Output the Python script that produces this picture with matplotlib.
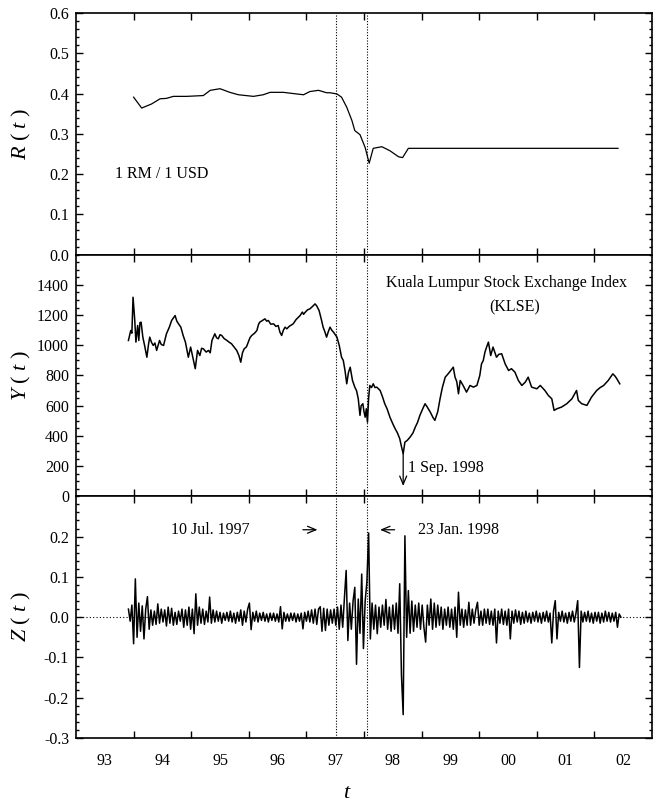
import numpy as np
import matplotlib
matplotlib.use('Agg')
import matplotlib.pyplot as plt
from matplotlib.ticker import MultipleLocator, FixedLocator, NullFormatter

# exchange rate 1 RM / 1 USD
r_t = [94.00, 94.14, 94.31, 94.46, 94.57, 94.69, 94.92, 95.21, 95.33, 95.50,
       95.67, 95.82, 96.08, 96.25, 96.37, 96.60, 96.83, 96.95, 97.06, 97.21,
       97.35, 97.41, 97.53, 97.61, 97.70, 97.79, 97.84, 97.93, 98.02, 98.09,
       98.16, 98.31, 98.45, 98.60, 98.67, 98.77, 102.41]
r_v = [0.391, 0.364, 0.374, 0.387, 0.388, 0.393, 0.393, 0.395, 0.408, 0.412,
       0.403, 0.397, 0.393, 0.397, 0.403, 0.403, 0.399, 0.397, 0.405, 0.408,
       0.402, 0.402, 0.399, 0.391, 0.366, 0.333, 0.308, 0.298, 0.266, 0.227,
       0.264, 0.268, 0.258, 0.243, 0.241, 0.264, 0.264]

# KLSE index
y_t = [93.91, 93.95, 93.97, 93.99, 94.02, 94.04, 94.07, 94.09, 94.11, 94.13,
       94.16, 94.19, 94.23, 94.26, 94.28, 94.31, 94.34, 94.37, 94.40, 94.45,
       94.48, 94.52, 94.57, 94.62, 94.66, 94.72, 94.75, 94.78, 94.82, 94.86,
       94.90, 94.95, 94.99, 95.04, 95.07, 95.11, 95.15, 95.18, 95.21, 95.26,
       95.30, 95.33, 95.36, 95.41, 95.44, 95.47, 95.50, 95.53, 95.57, 95.62,
       95.66, 95.70, 95.75, 95.79, 95.83, 95.86, 95.89, 95.92, 95.96, 95.99,
       96.02, 96.05, 96.10, 96.14, 96.17, 96.19, 96.24, 96.28, 96.31, 96.34,
       96.38, 96.43, 96.47, 96.51, 96.54, 96.57, 96.60, 96.63, 96.66, 96.70,
       96.74, 96.77, 96.82, 96.86, 96.89, 96.93, 96.95, 96.98, 97.02, 97.06,
       97.10, 97.15, 97.18, 97.22, 97.26, 97.29, 97.32, 97.35, 97.38, 97.41,
       97.44, 97.47, 97.50, 97.53, 97.57, 97.61, 97.64, 97.67, 97.70, 97.73,
       97.76, 97.80, 97.84, 97.87, 97.90, 97.93, 97.95, 97.98, 98.00, 98.02,
       98.04, 98.06, 98.08, 98.10, 98.13, 98.16, 98.19, 98.22, 98.28, 98.32,
       98.36, 98.40, 98.45, 98.50, 98.54, 98.58, 98.62, 98.65, 98.68, 98.71,
       98.75, 98.80, 98.85, 98.89, 98.93, 98.97, 99.02, 99.06, 99.10, 99.15,
       99.20, 99.23, 99.28, 99.32, 99.36, 99.41, 99.46, 99.50, 99.55, 99.58,
       99.61, 99.64, 99.67, 99.72, 99.78, 99.84, 99.90, 99.96, 100.01, 100.04,
       100.07, 100.10, 100.13, 100.16, 100.20, 100.24, 100.30, 100.34, 100.39, 100.45,
       100.51, 100.56, 100.62, 100.68, 100.74, 100.80, 100.85, 100.91, 101.00, 101.06,
       101.14, 101.20, 101.26, 101.30, 101.35, 101.43, 101.52, 101.61, 101.69, 101.72,
       101.78, 101.87, 101.95, 102.04, 102.10, 102.16, 102.24, 102.32, 102.36, 102.39,
       102.44]
y_v = [1032, 1098, 1080, 1318, 1164, 1021, 1131, 1032, 1150, 1153,
       1054, 1000, 921, 1010, 1054, 1020, 999, 1015, 966, 1032,
       1005, 999, 1076, 1120, 1164, 1197, 1160, 1142, 1120, 1065,
       1020, 921, 988, 899, 845, 966, 932, 980, 977, 955,
       966, 950, 1032, 1076, 1050, 1043, 1070, 1065, 1045, 1032,
       1020, 1010, 985, 966, 930, 888, 950, 977, 990, 1021,
       1050, 1065, 1080, 1098, 1140, 1153, 1165, 1175, 1160, 1164,
       1140, 1142, 1125, 1131, 1087, 1065, 1100, 1120, 1109, 1125,
       1135, 1142, 1170, 1185, 1197, 1220, 1205, 1219, 1235, 1241,
       1255, 1274, 1260, 1230, 1170, 1120, 1090, 1054, 1090, 1120,
       1100, 1087, 1070, 1054, 999, 921, 900, 833, 745, 820,
       855, 767, 723, 700, 646, 536, 600, 613, 560, 524,
       580, 491, 650, 734, 720, 745, 720, 723, 701, 660,
       613, 580, 524, 480, 448, 420, 382, 330, 282, 359,
       370, 392, 420, 458, 490, 536, 580, 613, 590, 558,
       520, 503, 560, 646, 720, 789, 811, 830, 855, 789,
       760, 679, 767, 734, 690, 734, 723, 734, 800, 877,
       899, 955, 990, 1021, 932, 988, 921, 940, 944, 877,
       833, 845, 822, 767, 734, 756, 789, 723, 712, 734,
       701, 668, 646, 569, 580, 591, 613, 646, 701, 635,
       613, 602, 657, 701, 720, 734, 767, 811, 795, 778,
       745]

# normalized returns, sampled every 0.03 yr from 93.91
z_start = 93.91
z_step = 0.03
z_v = [0.020, -0.010, 0.030, -0.066, 0.095, -0.050, 0.035, -0.035, 0.028, -0.054,
       0.020, 0.051, -0.030, 0.018, -0.020, 0.015, -0.018, 0.033, -0.015, 0.020,
       -0.012, 0.018, -0.022, 0.025, -0.015, 0.022, -0.020, 0.012, -0.018, 0.015,
       -0.010, 0.020, -0.025, 0.018, -0.020, 0.025, -0.030, 0.020, -0.041, 0.058,
       -0.020, 0.025, -0.015, 0.020, -0.018, 0.015, -0.012, 0.050, -0.015, 0.018,
       -0.012, 0.015, -0.010, 0.012, -0.015, 0.010, -0.008, 0.012, -0.010, 0.015,
       -0.012, 0.010, -0.015, 0.012, -0.010, 0.018, -0.020, 0.015, -0.012, 0.020,
       0.035, -0.031, 0.012, -0.010, 0.015, -0.012, 0.010, -0.008, 0.012, -0.010,
       0.008, -0.012, 0.010, -0.008, 0.010, -0.010, 0.008, -0.012, 0.026, -0.029,
       0.012, -0.010, 0.008, -0.010, 0.010, -0.008, 0.010, -0.012, 0.008, -0.010,
       0.010, -0.029, 0.012, -0.010, 0.015, -0.012, 0.018, -0.015, 0.020, -0.018,
       0.020, 0.026, -0.035, 0.022, -0.033, 0.020, -0.020, 0.018, -0.015, 0.020,
       -0.020, 0.025, -0.030, 0.030, -0.025, 0.048, 0.116, -0.058, 0.035, -0.030,
       0.040, 0.074, -0.117, 0.045, -0.040, 0.107, -0.078, 0.040, 0.087, 0.209,
       -0.054, 0.035, -0.030, 0.030, -0.041, 0.025, -0.025, 0.030, -0.020, 0.044,
       -0.030, 0.025, -0.035, 0.030, -0.030, 0.035, -0.040, 0.083, -0.144, -0.242,
       0.202, -0.050, 0.066, -0.040, 0.040, -0.035, 0.030, -0.025, 0.035, -0.030,
       0.030, -0.025, -0.062, 0.030, -0.020, 0.045, -0.030, 0.035, -0.025, 0.030,
       -0.020, 0.025, -0.030, 0.020, -0.020, 0.025, -0.025, 0.020, -0.030, 0.025,
       -0.050, 0.062, -0.020, 0.020, -0.025, 0.018, -0.020, 0.037, -0.020, 0.020,
       -0.015, 0.018, 0.037, -0.020, 0.015, -0.020, 0.020, -0.015, 0.020, -0.018,
       0.015, -0.020, 0.020, -0.064, 0.015, -0.015, 0.020, -0.018, 0.015, -0.020,
       0.020, -0.054, 0.015, -0.015, 0.018, -0.012, 0.015, -0.018, 0.012, -0.015,
       0.015, -0.012, 0.010, -0.015, 0.012, -0.010, 0.015, -0.012, 0.010, -0.015,
       0.012, -0.010, 0.015, -0.012, 0.010, -0.064, 0.015, 0.041, -0.054, 0.012,
       -0.010, 0.015, -0.012, 0.010, -0.015, 0.012, -0.010, 0.015, -0.012, 0.010,
       0.041, -0.125, 0.015, -0.012, 0.012, -0.010, 0.015, -0.012, 0.010, -0.015,
       0.012, -0.010, 0.012, -0.015, 0.010, -0.012, 0.015, -0.010, 0.012, -0.012,
       0.010, -0.010, 0.012, -0.025, 0.008, 0.000]
z_t = z_start + z_step * np.arange(len(z_v))

year_edges = list(range(94, 103))
year_centers = [y + 0.5 for y in range(93, 103)]
year_labels = ['93', '94', '95', '96', '97', '98', '99', '00', '01', '02']

crash_dates = [97.52, 98.06]   # 10 Jul. 1997, 23 Jan. 1998
sep98 = 98.68

plt.rcParams['font.family'] = ['Liberation Serif', 'DejaVu Serif']
plt.rcParams['mathtext.fontset'] = 'custom'
plt.rcParams['mathtext.rm'] = 'Liberation Serif'
plt.rcParams['mathtext.it'] = 'Liberation Serif:italic'
plt.rcParams['axes.unicode_minus'] = False

fig, axes = plt.subplots(3, 1, figsize=(6.57, 8.07), dpi=100)
fig.subplots_adjust(left=0.1157, right=0.9924, top=0.9839, bottom=0.0855,
                    hspace=0)
ax1, ax2, ax3 = axes

ax1.plot(r_t, r_v, color='k', lw=0.9)
ax2.plot(y_t, y_v, color='k', lw=1.1)
ax3.axhline(0, color='k', lw=0.8, ls=(0, (1, 2)), zorder=1)
ax3.plot(z_t, z_v, color='k', lw=1.1, zorder=2)

ax1.set_ylim(0, 0.6)
ax1.yaxis.set_major_locator(MultipleLocator(0.1))
ax1.yaxis.set_minor_locator(MultipleLocator(0.02))
ax1.yaxis.set_major_formatter(plt.FormatStrFormatter('%.1f'))

ax2.set_ylim(0, 1600)
ax2.yaxis.set_major_locator(FixedLocator([0, 200, 400, 600, 800, 1000, 1200, 1400]))
ax2.yaxis.set_minor_locator(MultipleLocator(50))

ax3.set_ylim(-0.3, 0.3)
ax3.yaxis.set_major_locator(FixedLocator([-0.3, -0.2, -0.1, 0.0, 0.1, 0.2]))
ax3.yaxis.set_minor_locator(MultipleLocator(0.02))
ax3.yaxis.set_major_formatter(plt.FormatStrFormatter('%.1f'))

for ax in axes:
    ax.set_xlim(93, 103)
    ax.xaxis.set_major_locator(FixedLocator(year_edges))
    ax.xaxis.set_major_formatter(NullFormatter())
    ax.xaxis.set_minor_locator(FixedLocator(year_centers))
    ax.xaxis.set_minor_formatter(NullFormatter())
    ax.tick_params(which='both', direction='in', top=True, right=True,
                   labelsize=11.5, width=1)
    ax.tick_params(which='major', length=5, pad=5)
    ax.tick_params(which='minor', length=2.5)
    ax.tick_params(axis='x', which='minor', length=0)
    for s in ax.spines.values():
        s.set_linewidth(1.2)
    for d in crash_dates:
        ax.axvline(d, color='k', lw=0.8, ls=(0, (1, 1.5)), zorder=1)
    ax.yaxis.set_label_coords(-0.075, 0.5)

ax3.xaxis.set_minor_formatter(plt.FixedFormatter(year_labels))
ax3.tick_params(axis='x', which='minor', pad=11)

ax1.set_ylabel(r'$R\ (\ t\ )$', fontsize=16)
ax2.set_ylabel(r'$Y\ (\ t\ )$', fontsize=16)
ax3.set_ylabel(r'$Z\ (\ t\ )$', fontsize=16)
ax3.set_xlabel(r'$t$', fontsize=16)
ax3.xaxis.set_label_coords(0.471, -0.19)

ax1.text(93.68, 0.2, '1 RM / 1 USD', fontsize=11.5, va='center')
ax2.text(100.47, 1415, 'Kuala Lumpur Stock Exchange Index', fontsize=11.5,
         ha='center', va='center')
ax2.text(100.62, 1250, '(KLSE)', fontsize=11.5, ha='center', va='center')
ax2.text(98.76, 185, '1 Sep. 1998', fontsize=11.5, va='center')
arrow = dict(arrowstyle='->, head_length=0.6, head_width=0.25', lw=0.9,
             color='k')
ax2.annotate('', xy=(sep98, 50), xytext=(sep98, 300), arrowprops=arrow)

ax3.text(95.33, 0.217, '10 Jul. 1997', fontsize=11.5, ha='center', va='center')
ax3.annotate('', xy=(97.24, 0.217), xytext=(96.89, 0.217), arrowprops=arrow)
ax3.annotate('', xy=(98.23, 0.217), xytext=(98.58, 0.217), arrowprops=arrow)
ax3.text(98.94, 0.217, '23 Jan. 1998', fontsize=11.5, va='center')

fig.savefig('out.png', dpi=100)
